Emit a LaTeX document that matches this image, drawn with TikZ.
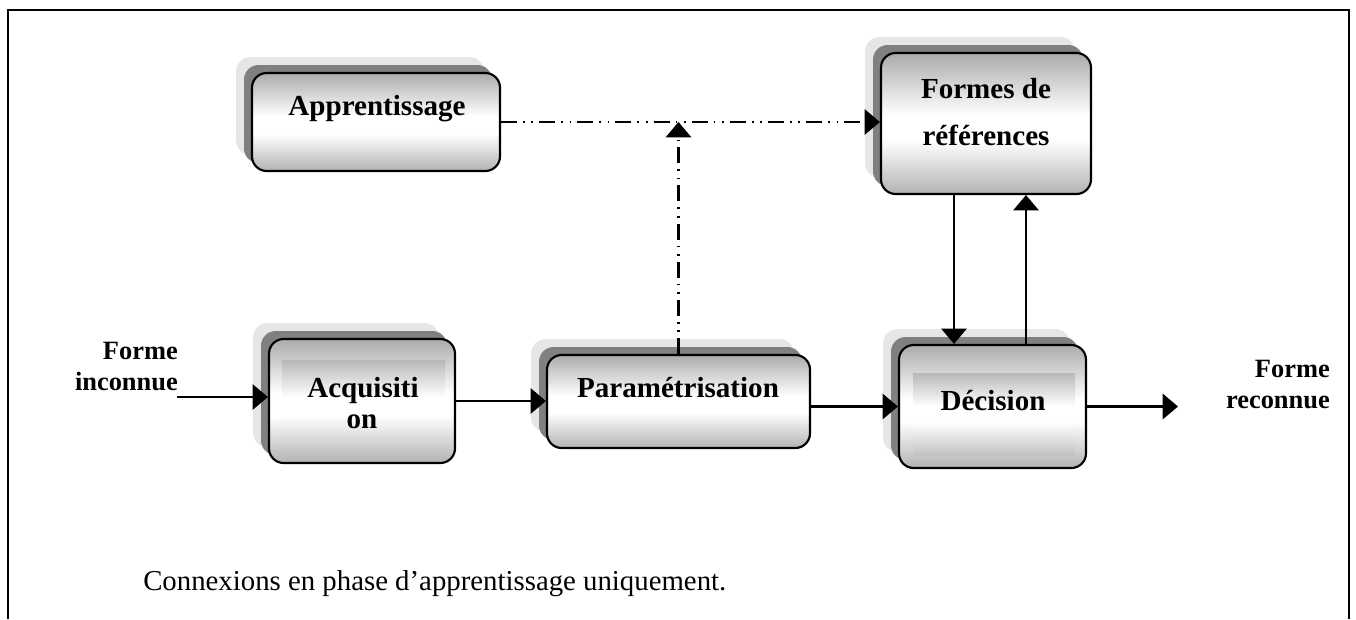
\documentclass[tikz,border=0pt]{standalone}
\usepackage{fontspec}
\setmainfont{Liberation Serif}
\usetikzlibrary{arrows.meta,shadows,calc}
\definecolor{shlight}{HTML}{E6E6E6}
\definecolor{shdark}{HTML}{808080}
% grey at the top and bottom, white a little below the middle
\pgfdeclareverticalshading{boxshade}{100bp}{color(0bp)=(black!30); color(25bp)=(black!30); color(44bp)=(white); color(53bp)=(white); color(75bp)=(black!33); color(100bp)=(black!33)}
\pgfdeclareverticalshading{innershade}{100bp}{color(0bp)=(black!24); color(25bp)=(black!24); color(45bp)=(white); color(55bp)=(white); color(75bp)=(black!28); color(100bp)=(black!28)}
\begin{document}
\begin{tikzpicture}[x=0.75pt,y=-0.75pt,
  procbox/.style={draw=black, line width=1.6pt, rounded corners=11pt, shade, shading=boxshade, inner sep=0pt,
    general shadow={fill=shlight, shadow xshift=-12pt, shadow yshift=12pt},
    general shadow={fill=shdark, shadow xshift=-6pt, shadow yshift=6pt}},
  lbl/.style={font=\fontsize{21.8}{26}\selectfont\bfseries, anchor=base, inner sep=0pt},
  side/.style={font=\fontsize{19.8}{24}\selectfont\bfseries, anchor=base east, inner sep=0pt},
  arr/.style={line width=1.6pt, -{Triangle[length=11.5pt,width=19pt]}},
  dashdot/.style={line width=1.6pt, dash pattern=on 12pt off 4.5pt on 1.3pt off 5pt on 1.3pt off 4.5pt,
    -{Triangle[length=11.5pt,width=19pt]}}]
\useasboundingbox (0,0) rectangle (1356,619);

% outer frame, open at the bottom
\draw[line width=1.7pt] (8,619) -- (8,10) -- (1349,10) -- (1349,619);

% blocks
\node[procbox, minimum width=186pt, minimum height=73.5pt] (appr) at (376,122) {};
\node[procbox, minimum width=157.5pt, minimum height=105.75pt] (form) at (986,123.5) {};
\node[procbox, minimum width=139.5pt, minimum height=93pt] (acq) at (362,401) {};
\node[procbox, minimum width=197.25pt, minimum height=69.75pt] (param) at (678.5,401.5) {};
\node[procbox, minimum width=140.25pt, minimum height=92.25pt] (dec) at (992.5,406.5) {};

% text frames inside two of the blocks
\shade[shading=innershade] (282,360) rectangle (445,453);
\shade[shading=innershade] (913,373) rectangle (1075,455);

% block labels
\node[lbl] (appr-t) at (377,115) {Apprentissage};
\node[lbl] (form-t1) at (986,98) {Formes de};
\node[lbl] (form-t2) at (986,145) {références};
\node[lbl] (acq-t1) at (363,397) {Acquisiti};
\node[lbl] (acq-t2) at (362,428) {on};
\node[lbl] (param-t) at (678,397) {Paramétrisation};
\node[lbl] (dec-t) at (993,410) {Décision};

% input / output labels
\node[side] (fi1) at (178,359) {Forme};
\node[side] (fi2) at (178,390) {inconnue};
\node[side] (fr1) at (1330,377) {Forme};
\node[side] (fr2) at (1330,408) {reconnue};

% connectors
\coordinate (in) at (177,397);
\coordinate (out) at (1178,407);
\coordinate (xd) at (954,0);
\coordinate (xu) at (1026,0);

\draw[arr] (in) -- (in -| acq.west);
\draw[arr] (acq.east) -- (acq.east -| param.west);
\draw[arr] (param.east |- dec.west) -- (dec.west);
\draw[arr] (dec.east) -- (dec.east -| out);
\draw[arr] (form.south -| xd) -- (dec.north -| xd);
\draw[arr] (dec.north -| xu) -- (form.south -| xu);

% learning-phase connections
\draw[dashdot] (appr.east) -- (appr.east -| form.west);
\draw[dashdot] (param.north) -- (param.north |- appr.east);

% caption
\node[anchor=base west, font=\fontsize{21.6}{26}\selectfont, inner sep=0pt] (cap) at (143,590)
  {Connexions en phase d’apprentissage uniquement.};
\end{tikzpicture}
\end{document}
